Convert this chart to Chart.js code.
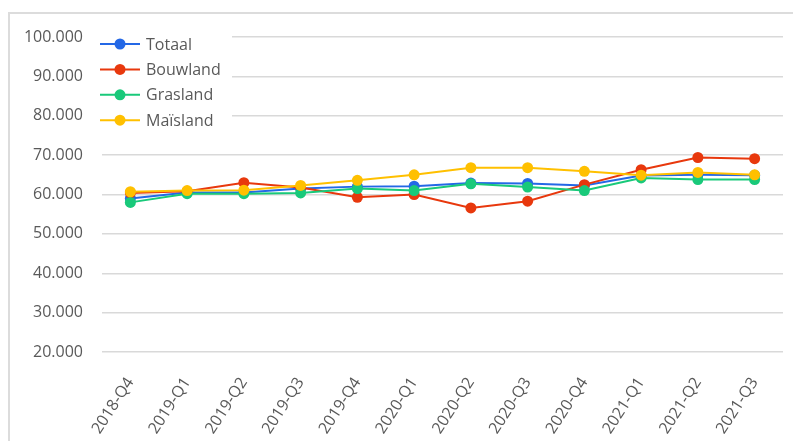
<!DOCTYPE html>
<html>
<head>
<meta charset="utf-8">
<script src="https://cdn.jsdelivr.net/npm/chart.js@4"></script>
<style>
	body { margin: 0; background: #fff; }
	#wrap { position: relative; width: 793px; height: 441px; overflow: hidden; }
	#frame { position: absolute; left: 8px; top: 12px; width: 800px; height: 440px;
		border-top: 2px solid #dcdcdc; border-left: 2px solid #dcdcdc; }
	#chartCanvas { position: absolute; left: 0; top: 0; }
</style>
</head>
<body>
<div id="wrap">
	<div id="frame"></div>
	<canvas id="chartCanvas" width="793" height="441"></canvas>
</div>
<script>

// kwartalen
var quarters = ["2018-Q4", "2019-Q1", "2019-Q2", "2019-Q3", "2019-Q4", "2020-Q1",
	"2020-Q2", "2020-Q3", "2020-Q4", "2021-Q1", "2021-Q2", "2021-Q3"];

var totaal    = [59000, 60500, 60500, 61500, 62000, 62100, 62900, 62800, 62300, 64800, 65000, 64900];
var bouwland  = [60400, 60800, 63000, 61800, 59300, 60000, 56600, 58300, 62500, 66300, 69400, 69100];
var grasland  = [58000, 60200, 60200, 60400, 61500, 61000, 62700, 61900, 61000, 64200, 63800, 63800];
var maisland  = [60700, 61000, 61100, 62300, 63600, 65000, 66800, 66800, 65900, 64900, 65600, 65000];

var yTicks = [20000, 30000, 40000, 50000, 60000, 70000, 80000, 90000, 100000];

var textColor = "#595959";
var fontFamily = "'Open Sans', 'Liberation Sans', sans-serif";

function fmt(v) {	// 100000 -> 100.000
	return String(v).replace(/\B(?=(\d{3})+(?!\d))/g, ".");
}

function makeSet(label, values, color, order) {
	return {
		label: label,
		data: values,
		borderColor: color,
		backgroundColor: color,
		pointBackgroundColor: color,
		pointBorderColor: color,
		pointRadius: 5.5,
		pointBorderWidth: 0,
		borderWidth: 2,
		tension: 0,
		order: order
	};
}

// legenda binnen het grafiekvlak, zoals in Excel
var boxLegend = {
	id: "boxLegend",
	afterDraw: function(chart) {
		var c = chart.ctx;
		var sets = chart.data.datasets;
		c.save();
		c.fillStyle = "#fff";
		c.fillRect(98, 29, 134, 104);
		c.font = "16px " + fontFamily;
		c.textBaseline = "middle";
		for (var i = 0; i < sets.length; i++) {
			var y = 44 + i * 25.4;
			c.strokeStyle = sets[i].borderColor;
			c.lineWidth = 2;
			c.beginPath();
			c.moveTo(100, y);
			c.lineTo(140, y);
			c.stroke();
			c.fillStyle = sets[i].borderColor;
			c.beginPath();
			c.arc(120, y, 5.5, 0, Math.PI * 2);
			c.fill();
			c.fillStyle = textColor;
			c.fillText(sets[i].label, 146, y + 1);
		}
		c.restore();
	}
};

var ctx = document.getElementById("chartCanvas").getContext("2d");

new Chart(ctx, {
	type: "line",
	data: {
		labels: quarters,
		datasets: [
			makeSet("Totaal", totaal, "#2468e6", 4),
			makeSet("Bouwland", bouwland, "#e8380d", 3),
			makeSet("Grasland", grasland, "#19c97a", 2),
			makeSet("Maïsland", maisland, "#ffc000", 1)
		]
	},
	options: {
		responsive: false,
		animation: false,
		layout: { padding: { top: 37, right: 10, bottom: 0, left: 0 } },
		plugins: {
			legend: { display: false },
			tooltip: { enabled: false }
		},
		scales: {
			x: {
				offset: true,
				grid: { display: false },
				border: { display: false },
				ticks: {
					color: textColor,
					font: { family: fontFamily, size: 16 },
					minRotation: 57,
					maxRotation: 57,
					padding: 14
				},
				afterFit: function(scale) { scale.height = 89; }
			},
			y: {
				min: 20000,
				max: 100000,
				afterBuildTicks: function(scale) {
					scale.ticks = yTicks.map(function(v) { return { value: v }; });
				},
				grid: { color: "#d9d9d9", lineWidth: 1.5, drawTicks: false },
				border: { display: false },
				ticks: {
					color: textColor,
					font: { family: fontFamily, size: 16 },
					padding: 19,
					callback: function(v) { return fmt(v); }
				},
				afterFit: function(scale) { scale.width = 102; }
			}
		}
	},
	plugins: [boxLegend]
});
</script>
</body>
</html>
